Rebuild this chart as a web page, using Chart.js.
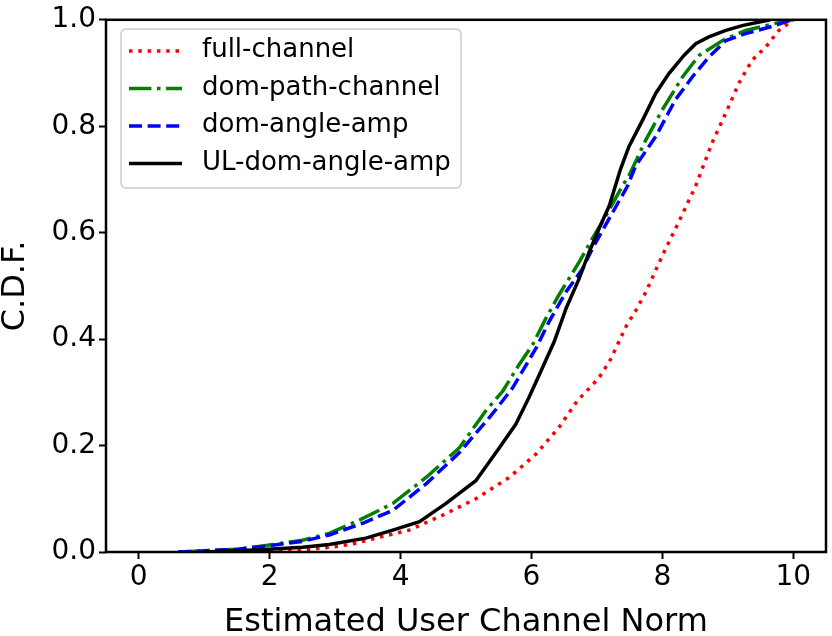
<!DOCTYPE html>
<html>
<head>
<meta charset="utf-8">
<script src="https://cdn.jsdelivr.net/npm/chart.js@4.4.1/dist/chart.umd.min.js"></script>
<style>
  html, body { margin: 0; padding: 0; background: #fff; }
  #box { width: 832px; height: 636px; }
</style>
</head>
<body>
<div id="box"><canvas id="cdfChart"></canvas></div>
<script>
const seriesNames = ["full-channel", "dom-path-channel", "dom-angle-amp", "UL-dom-angle-amp"];

const fullX = [2.0, 2.6, 3.0, 3.3, 3.62, 4.13, 4.64, 5.15, 5.66, 6.07, 6.42, 6.7, 7.03, 7.2, 7.34, 7.45, 7.6, 7.75, 8.0, 8.25, 8.51, 8.76, 8.97, 9.17, 9.37, 9.58, 9.78, 10.0];
const fullY = [0.0, 0.005, 0.01, 0.016, 0.026, 0.041, 0.069, 0.1, 0.14, 0.184, 0.234, 0.284, 0.327, 0.36, 0.396, 0.425, 0.455, 0.489, 0.557, 0.62, 0.688, 0.769, 0.825, 0.881, 0.924, 0.949, 0.98, 1.0];

const domPathX = [0.6, 1.5, 2.0, 2.5, 2.91, 3.37, 3.88, 4.39, 4.9, 5.3, 5.56, 5.81, 6.02, 6.22, 6.42, 6.73, 6.93, 7.14, 7.39, 7.49, 7.75, 8.0, 8.31, 8.56, 8.92, 9.27, 9.58, 9.89, 10.0];
const domPathY = [0.0, 0.005, 0.013, 0.022, 0.035, 0.06, 0.091, 0.14, 0.196, 0.265, 0.302, 0.352, 0.39, 0.439, 0.483, 0.545, 0.589, 0.632, 0.688, 0.707, 0.775, 0.831, 0.893, 0.933, 0.961, 0.98, 0.989, 0.998, 1.0];

const domAngleX = [0.6, 1.5, 2.0, 2.5, 2.91, 3.42, 3.88, 4.39, 4.9, 5.4, 5.71, 6.07, 6.27, 6.53, 6.78, 6.93, 7.24, 7.47, 7.59, 7.9, 8.2, 8.46, 8.71, 8.97, 9.27, 9.63, 9.93, 10.0];
const domAngleY = [0.0, 0.005, 0.012, 0.02, 0.032, 0.054, 0.078, 0.128, 0.187, 0.259, 0.308, 0.383, 0.433, 0.489, 0.532, 0.57, 0.638, 0.688, 0.725, 0.781, 0.85, 0.893, 0.93, 0.961, 0.974, 0.986, 0.998, 1.0];

const ulX = [1.0, 1.85, 2.5, 2.91, 3.47, 3.88, 4.29, 4.69, 5.15, 5.51, 5.76, 5.96, 6.12, 6.35, 6.53, 6.73, 6.88, 7.03, 7.19, 7.36, 7.49, 7.7, 7.9, 8.1, 8.33, 8.51, 8.71, 8.97, 9.22, 9.48, 9.65];
const ulY = [0.0, 0.004, 0.009, 0.014, 0.026, 0.041, 0.057, 0.091, 0.134, 0.196, 0.24, 0.29, 0.333, 0.396, 0.458, 0.514, 0.563, 0.607, 0.651, 0.719, 0.762, 0.812, 0.862, 0.899, 0.933, 0.955, 0.968, 0.98, 0.989, 0.996, 1.0];

const xTicks = [0, 2, 4, 6, 8, 10];
const yTicks = [0.0, 0.2, 0.4, 0.6, 0.8, 1.0];

const fonte = "DejaVu Sans";

function pontos(xs, ys) {
  return xs.map((x, i) => ({ x: x, y: ys[i] }));
}

// moldura dos eixos + legenda dentro do grafico
const molduraELegenda = {
  id: "molduraELegenda",
  afterDatasetsDraw(chart) {
    const ctx = chart.ctx;
    const area = chart.chartArea;
    ctx.save();
    ctx.lineWidth = 2.5;
    ctx.strokeStyle = "#000";
    ctx.strokeRect(area.left, area.top, area.right - area.left, area.bottom - area.top);

    ctx.beginPath();
    ctx.roundRect(121, 29, 340, 159, 5);
    ctx.fillStyle = "rgba(255,255,255,0.8)";
    ctx.fill();
    ctx.lineWidth = 1.5;
    ctx.strokeStyle = "#cccccc";
    ctx.stroke();

    chart.data.datasets.forEach((ds, i) => {
      const y = 51 + i * 37.5;
      ctx.beginPath();
      ctx.setLineDash(ds.borderDash || []);
      ctx.lineWidth = ds.borderWidth;
      ctx.strokeStyle = ds.borderColor;
      ctx.moveTo(129, y);
      ctx.lineTo(182, y);
      ctx.stroke();
      ctx.setLineDash([]);
      ctx.fillStyle = "#000";
      ctx.font = "26px '" + fonte + "'";
      ctx.textBaseline = "alphabetic";
      ctx.fillText(ds.label, 202, y + 6);
    });
    ctx.restore();
  },
};

const cores = ["#ff0000", "#008000", "#0000ff", "#000000"];
const tracos = [[3.5, 5.8], [22.4, 5.6, 3.5, 5.6], [13, 5.6], []];
const series = [
  pontos(fullX, fullY),
  pontos(domPathX, domPathY),
  pontos(domAngleX, domAngleY),
  pontos(ulX, ulY),
];

new Chart(document.getElementById("cdfChart"), {
  type: "line",
  data: {
    datasets: series.map((dados, i) => ({
      label: seriesNames[i],
      data: dados,
      borderColor: cores[i],
      borderWidth: 3.5,
      borderDash: tracos[i],
      borderCapStyle: "butt",
      pointRadius: 0,
      fill: false,
      tension: 0,
      order: 3 - i,
    })),
  },
  options: {
    responsive: true,
    maintainAspectRatio: false,
    animation: false,
    layout: { padding: { top: 16, right: 6, left: 0, bottom: 0 } },
    plugins: {
      legend: { display: false },
      tooltip: { enabled: false },
    },
    scales: {
      x: {
        type: "linear",
        min: -0.5,
        max: 10.5,
        afterBuildTicks: (s) => { s.ticks = xTicks.map((v) => ({ value: v })); },
        afterFit: (s) => { s.height = 84; },
        grid: { drawOnChartArea: false, tickLength: 7, tickWidth: 2, tickColor: "#000" },
        border: { display: false },
        ticks: {
          color: "#000",
          font: { family: fonte, size: 28 },
          padding: 2,
          maxRotation: 0,
          callback: (v) => String(v),
        },
        title: {
          display: true,
          text: "Estimated User Channel Norm",
          color: "#000",
          font: { family: fonte, size: 32, lineHeight: 0.85 },
          padding: { top: 0, bottom: 0 },
        },
      },
      y: {
        min: 0,
        max: 1,
        afterBuildTicks: (s) => { s.ticks = yTicks.map((v) => ({ value: v })); },
        afterFit: (s) => { s.width = 106; },
        grid: { drawOnChartArea: false, tickLength: 7, tickWidth: 2, tickColor: "#000" },
        border: { display: false },
        ticks: {
          color: "#000",
          font: { family: fonte, size: 28 },
          padding: 3,
          callback: (v) => v.toFixed(1),
        },
        title: {
          display: true,
          text: "C.D.F.",
          color: "#000",
          font: { family: fonte, size: 32, lineHeight: 1 },
          padding: { top: 0, bottom: 0 },
        },
      },
    },
  },
  plugins: [molduraELegenda],
});
</script>
</body>
</html>
